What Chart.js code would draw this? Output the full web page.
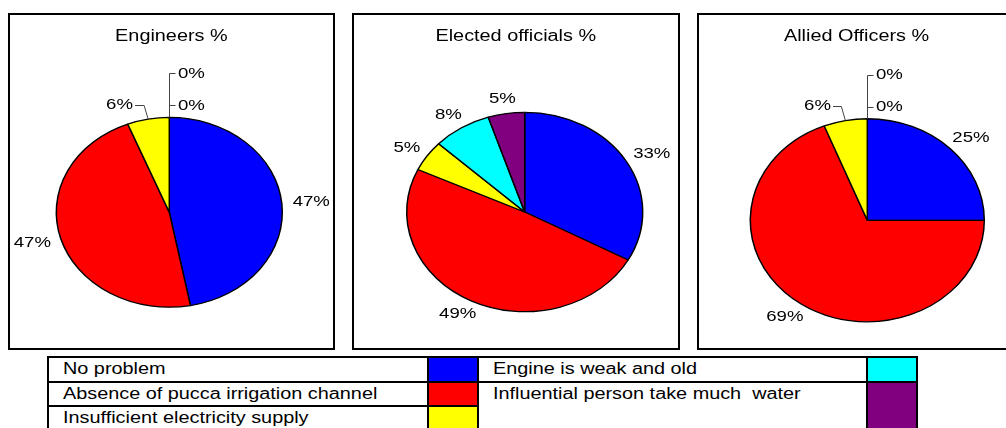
<!DOCTYPE html>
<html>
<head>
<meta charset="utf-8">
<title>Problems of irrigation - Engineers, Elected officials, Allied Officers</title>
<script src="https://cdn.jsdelivr.net/npm/chart.js@4.4.1/dist/chart.umd.min.js"></script>
<style>
  html, body { margin: 0; padding: 0; background: #fff; }
  #page { position: relative; width: 1006px; height: 428px; overflow: hidden;
          font-family: "Liberation Sans", Arial, sans-serif; font-size: 16px; color: #000; }
  .panel { position: absolute; top: 13px; height: 337px; border: 2px solid #000; box-sizing: border-box; }
  .panel canvas { position: absolute; left: 0; top: 0; }
  .panel .title { position: absolute; left: 0; right: 0; top: 11.5px; line-height: 18px; text-align: center; }
  .wide { display: inline-block; transform: scaleX(1.24); white-space: pre; }
  .title .wide { transform-origin: 50% 50%; }
  .cell { position: absolute; border: 2px solid #000; box-sizing: border-box; line-height: 22.5px; }
  .cell .wide { transform-origin: 0 50%; }
</style>
</head>
<body>
<div id="page"></div>
<script>
// categories, same order in every pie (clockwise from 12 o'clock)
const categories = ['No problem', 'Absence of pucca irrigation channel', 'Insufficient electricity supply',
    'Engine is weak and old', 'Influential person take much  water'];
const sliceColors = ['#0000FF', '#FF0000', '#FFFF00', '#00FFFF', '#800080'];

const chartTitles = ['Engineers %', 'Elected officials %', 'Allied Officers %'];
const engineersPct = [47, 47, 6, 0, 0];
const electedPct = [33, 49, 5, 8, 5];
const alliedPct = [25, 69, 6, 0, 0];

// the source picture is stretched sideways: text is wider, pies are ellipses
const STRETCH = 1.24;
const LABEL_GAP = 11;

// box position and pie centre / radius of each panel (page pixels)
const panels = [
    { left: 8,   width: 327, cx: 169.3, cy: 212.3, r: 113, ratio: 0.84, data: engineersPct },
    { left: 352, width: 328, cx: 524.7, cy: 212,   r: 118, ratio: 0.845, data: electedPct },
    { left: 697, width: 320, cx: 867.3, cy: 220.3, r: 117, ratio: 0.868, data: alliedPct }
];

function wideText(ctx, text, x, y) {
    ctx.save();
    ctx.translate(x, y);
    ctx.scale(STRETCH, 1);
    ctx.textAlign = 'center';
    ctx.textBaseline = 'middle';
    ctx.fillText(text, 0, 0);
    ctx.restore();
}

// squash the pie vertically around its centre
const squash = {
    id: 'squash',
    beforeDatasetsDraw(chart, args, opts) {
        const arc = chart.getDatasetMeta(0).data[0];
        const ctx = chart.ctx;
        ctx.save();
        ctx.translate(arc.x, arc.y);
        ctx.scale(1, opts.ratio);
        ctx.translate(-arc.x, -arc.y);
    },
    afterDatasetsDraw(chart) {
        chart.ctx.restore();
    }
};

// percent labels outside the slices
const pctLabels = {
    id: 'pctLabels',
    afterDraw(chart, args, opts) {
        const ctx = chart.ctx;
        const k = opts.ratio;
        const values = chart.data.datasets[0].data;
        const arcs = chart.getDatasetMeta(0).data;
        ctx.save();
        ctx.font = '15px "Liberation Sans", Arial, sans-serif';
        const items = arcs.map((arc, i) => {
            const mid = (arc.startAngle + arc.endAngle) / 2;
            const c = Math.cos(mid), s = Math.sin(mid);
            const text = values[i] + '%';
            const w = ctx.measureText(text).width * STRETCH;
            const h = 11;
            const R = arc.outerRadius;
            return {
                text, w, zero: values[i] === 0,
                ax: arc.x + R * c, ay: arc.y + k * R * s,
                x: arc.x + (R + LABEL_GAP) * c + c * w / 2,
                y: arc.y + k * (R + LABEL_GAP) * s + s * h / 2
            };
        });
        ctx.strokeStyle = '#444';
        ctx.lineWidth = 1;
        ctx.fillStyle = '#000';

        // empty slices all sit at 12 o'clock: stack their labels on one leader
        const zeros = items.filter(d => d.zero);
        if (zeros.length) {
            const colX = Math.round(zeros[0].ax), baseY = zeros[0].ay;
            zeros.forEach((d, j) => {
                d.y = baseY - 12 - 32 * j;
                d.x = colX + 9 + d.w / 2;
            });
            const topY = zeros[zeros.length - 1].y;
            ctx.beginPath();
            ctx.moveTo(colX + 0.5, baseY);
            ctx.lineTo(colX + 0.5, Math.round(topY) + 0.5);
            zeros.forEach(d => {
                ctx.moveTo(colX + 0.5, Math.round(d.y) + 0.5);
                ctx.lineTo(colX + 6.5, Math.round(d.y) + 0.5);
            });
            ctx.stroke();

            // labels crowding that leader move left and get their own leader
            items.forEach(d => {
                if (!d.zero && d.x < colX && d.x + d.w / 2 > colX - 30) {
                    d.x = colX - 36 - d.w / 2;
                    const ly = Math.round(d.y) + 0.5;
                    ctx.beginPath();
                    ctx.moveTo(d.x + d.w / 2 + 2, ly);
                    ctx.lineTo(d.ax - 4, ly);
                    ctx.lineTo(d.ax, d.ay);
                    ctx.stroke();
                }
            });
        }
        items.forEach(d => wideText(ctx, d.text, d.x, d.y));
        ctx.restore();
    }
};

const page = document.getElementById('page');

panels.forEach((p, n) => {
    const box = document.createElement('div');
    box.className = 'panel';
    box.style.left = p.left + 'px';
    box.style.width = p.width + 'px';

    const canvas = document.createElement('canvas');
    const W = p.width - 4, H = 333;
    canvas.width = W;
    canvas.height = H;
    canvas.style.width = W + 'px';
    canvas.style.height = H + 'px';
    box.appendChild(canvas);

    const title = document.createElement('div');
    title.className = 'title';
    const span = document.createElement('span');
    span.className = 'wide';
    span.textContent = chartTitles[n];
    title.appendChild(span);
    box.appendChild(title);
    page.appendChild(box);

    // pie centre inside the canvas
    const px = p.cx - p.left - 2, py = p.cy - 15;
    new Chart(canvas, {
        type: 'pie',
        data: {
            labels: categories,
            datasets: [{
                data: p.data,
                backgroundColor: sliceColors,
                borderColor: '#000',
                borderWidth: 1.5,
                radius: p.r,
                hoverOffset: 0
            }]
        },
        options: {
            responsive: false,
            animation: false,
            devicePixelRatio: 1,
            events: [],
            layout: { padding: { left: px - 10, right: W - px - 10, top: py - 10, bottom: H - py - 10 } },
            plugins: {
                legend: { display: false },
                tooltip: { enabled: false },
                squash: { ratio: p.ratio },
                pctLabels: { ratio: p.ratio }
            }
        },
        plugins: [squash, pctLabels]
    });
});

// legend table under the pies: text cell + colour swatch, two columns of rows
const rowTop = 356, rowPitch = 24.5, cellH = 26.5;
const legendCols = [
    { textLeft: 47, textWidth: 381.5, swatchLeft: 426.5, swatchWidth: 52.5 },
    { textLeft: 477, textWidth: 391, swatchLeft: 866, swatchWidth: 52 }
];
categories.forEach((name, i) => {
    const col = legendCols[i < 3 ? 0 : 1];
    const row = i < 3 ? i : i - 3;
    const last = i === categories.length - 1;
    const top = rowTop + row * rowPitch;
    const h = last ? cellH + rowPitch : cellH;

    const cell = document.createElement('div');
    cell.className = 'cell';
    Object.assign(cell.style, {
        left: col.textLeft + 'px', top: top + 'px',
        width: col.textWidth + 'px', height: h + 'px',
        paddingLeft: '14px'
    });
    const span = document.createElement('span');
    span.className = 'wide';
    span.textContent = name;
    cell.appendChild(span);
    page.appendChild(cell);

    const sw = document.createElement('div');
    sw.className = 'cell';
    Object.assign(sw.style, {
        left: col.swatchLeft + 'px', top: top + 'px',
        width: col.swatchWidth + 'px', height: h + 'px',
        background: sliceColors[i]
    });
    page.appendChild(sw);
});
</script>
</body>
</html>
